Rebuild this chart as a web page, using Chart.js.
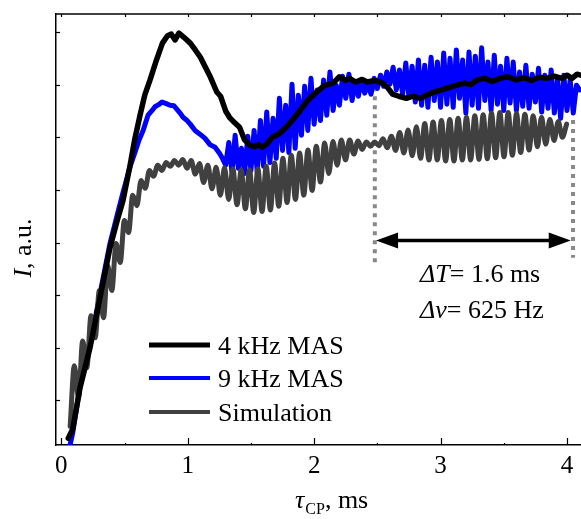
<!DOCTYPE html>
<html>
<head>
<meta charset="utf-8">
<script src="https://cdn.jsdelivr.net/npm/chart.js@4.4.1/dist/chart.umd.min.js"></script>
<style>
  html, body { margin: 0; padding: 0; background: #fff; }
  #cpChart { display: block; }
</style>
</head>
<body>
<canvas id="cpChart" width="581" height="519"></canvas>
<script>
// axis ticks (tau_CP in ms, intensity in arbitrary units)
const xTicks = [0, 0.5, 1, 1.5, 2, 2.5, 3, 3.5, 4];
const xTickLabels = ['0', '', '1', '', '2', '', '3', '', '4'];
const yTicks = [0, 1, 2, 3, 4, 5, 6, 7];

// 4 kHz MAS
const mas4X = [0.055, 0.09, 0.148, 0.227, 0.306, 0.385, 0.44, 0.488, 0.544, 0.58, 0.623, 0.66, 0.702,
  0.75, 0.80, 0.84, 0.87, 0.90, 0.93, 0.97, 1.02, 1.06, 1.10, 1.14, 1.18, 1.23, 1.26, 1.30, 1.33, 1.37,
  1.41, 1.45, 1.49, 1.53, 1.56, 1.59, 1.63, 1.67, 1.72, 1.78, 1.83, 1.89, 1.95, 2.02, 2.08, 2.15, 2.20,
  2.25, 2.28, 2.33, 2.38, 2.42, 2.48, 2.54, 2.58, 2.62, 2.67, 2.73, 2.78, 2.84, 2.89, 2.95, 3.01, 3.07,
  3.13, 3.19, 3.24, 3.29, 3.35, 3.41, 3.47, 3.53, 3.60, 3.66, 3.72, 3.78, 3.84, 3.90, 3.96, 4.00, 4.04,
  4.08, 4.11];
const mas4Y = [-0.72, -0.55, 0.24, 1.0, 1.95, 2.90, 3.40, 3.80, 4.47, 4.95, 5.42, 5.80, 6.09,
  6.45, 6.79, 6.93, 6.96, 6.85, 6.98, 6.90, 6.79, 6.66, 6.52, 6.33, 6.14, 5.86, 5.78, 5.50, 5.38, 5.28,
  5.19, 4.95, 4.85, 4.82, 4.86, 4.81, 4.88, 5.00, 5.06, 5.19, 5.33, 5.51, 5.70, 5.86, 5.98, 6.03, 6.15,
  6.08, 6.12, 6.05, 6.10, 6.05, 6.08, 6.03, 5.95, 5.82, 5.78, 5.74, 5.78, 5.74, 5.80, 5.86, 5.90, 5.95,
  5.99, 6.03, 6.00, 6.09, 6.12, 6.06, 6.12, 6.15, 6.09, 6.13, 6.08, 6.14, 6.12, 6.16, 6.12, 6.18, 6.12,
  6.20, 6.18];

// 9 kHz MAS: smooth rise, then the noisy part sampled every 0.025 ms from 1.30 ms
const mas9X = [0.06, 0.09, 0.148, 0.227, 0.306, 0.385, 0.44, 0.488, 0.545, 0.584, 0.615, 0.647, 0.686,
  0.715, 0.741, 0.77, 0.797, 0.83, 0.86, 0.89, 0.915, 0.94, 0.963, 0.99, 1.02, 1.058, 1.097, 1.137,
  1.176, 1.216, 1.25, 1.27];
const mas9Y = [-0.95, -0.62, 0.26, 1.05, 2.02, 2.98, 3.50, 3.95, 4.45, 4.72, 4.95, 5.13, 5.42,
  5.50, 5.58, 5.62, 5.67, 5.64, 5.61, 5.60, 5.53, 5.46, 5.38, 5.33, 5.25, 5.13, 5.06, 4.98,
  4.86, 4.81, 4.70, 4.62];
const mas9T0 = 1.30;
const mas9Dt = 0.025;
const mas9NoisyY = [4.47, 4.90, 4.33, 5.04, 4.41, 4.79, 4.31, 5.02, 4.37, 5.13, 4.33, 5.32, 4.45, 5.48,
  4.52, 5.36, 4.60, 5.74, 4.75, 5.61, 4.71, 6.01, 4.79, 5.80, 5.04, 5.97, 5.13, 6.12, 5.25, 5.90, 5.32,
  6.09, 5.42, 6.24, 5.51, 5.99, 5.61, 6.16, 5.74, 6.20, 5.70, 6.05, 5.78, 6.09, 5.84, 6.01, 5.82, 6.12,
  5.93, 6.18, 5.97, 6.24, 6.01, 6.33, 5.90, 6.28, 5.82, 6.41, 5.76, 6.35, 5.67, 6.47, 5.61, 6.37, 5.57,
  6.52, 5.70, 6.43, 5.57, 6.60, 5.63, 6.50, 5.57, 6.66, 5.74, 6.47, 5.46, 6.62, 5.61, 6.54, 5.55, 6.70,
  5.70, 6.43, 5.51, 6.56, 5.63, 6.35, 5.51, 6.50, 5.65, 6.43, 5.51, 6.24, 5.59, 6.37, 5.55, 6.20, 5.67,
  6.31, 5.48, 6.18, 5.55, 6.28, 5.46, 6.09, 5.36, 6.18, 5.51, 6.09, 5.46, 5.99, 5.90];

// Simulation, sampled every 0.033 ms from 0.07 ms (peaks and troughs)
const simT0 = 0.07;
const simDt = 0.033;
const simY = [-0.49, 0.66, 0.05, 1.13, 0.62, 1.61, 1.19, 2.09, 1.57, 2.56, 2.09, 2.98, 2.62, 3.42, 3.19,
  3.90, 3.70, 4.18, 4.03, 4.37, 4.26, 4.47, 4.37, 4.52, 4.45, 4.56, 4.47, 4.58, 4.41, 4.56, 4.30, 4.50,
  4.14, 4.47, 4.02, 4.43, 3.90, 4.42, 3.82, 4.40, 3.72, 4.38, 3.64, 4.38, 3.57, 4.40, 3.59, 4.45, 3.62,
  4.51, 3.69, 4.60, 3.76, 4.66, 3.82, 4.70, 3.90, 4.76, 3.99, 4.83, 4.15, 4.89, 4.31, 4.92, 4.47, 4.95,
  4.57, 4.95, 4.68, 4.93, 4.77, 4.91, 4.83, 4.91, 4.84, 4.97, 4.80, 5.02, 4.75, 5.09, 4.70, 5.14, 4.65,
  5.20, 4.60, 5.26, 4.57, 5.29, 4.57, 5.32, 4.55, 5.34, 4.55, 5.36, 4.57, 5.38, 4.57, 5.41, 4.58, 5.43,
  4.59, 5.46, 4.61, 5.47, 4.63, 5.47, 4.66, 5.45, 4.71, 5.44, 4.76, 5.41, 4.82, 5.38, 4.87, 5.34, 4.94,
  5.30, 5.00, 5.25];

const seriesNames = ['4 kHz MAS', '9 kHz MAS', 'Simulation'];
const seriesColors = ['#000000', '#0000ff', '#404040'];

// Delta T markers: dotted verticals [x, yFrom, yTo] and the arrow [x0, x1, y]
const dotLines = [[2.48, 2.56, 5.95], [4.048, 2.71, 5.84]];
const arrowSpan = [2.49, 4.03, 3.04];

const serif = 'Liberation Serif';
const toPoints = (xs, ys) => xs.map((x, i) => ({ x: x, y: ys[i] }));
const gridPoints = (t0, dt, ys) => ys.map((y, i) => ({ x: t0 + i * dt, y: y }));

const annotate = {
  id: 'annotate',
  beforeDatasetsDraw(chart) {
    const { ctx, scales: { x, y } } = chart;
    ctx.save();
    ctx.strokeStyle = '#888888';
    ctx.lineWidth = 4;
    ctx.setLineDash([4, 5]);
    dotLines.forEach(d => {
      const px = x.getPixelForValue(d[0]);
      ctx.beginPath();
      ctx.moveTo(px, y.getPixelForValue(d[2]));
      ctx.lineTo(px, y.getPixelForValue(d[1]));
      ctx.stroke();
    });
    ctx.restore();
  },
  afterDraw(chart) {
    const { ctx, chartArea: a, scales: { x, y } } = chart;
    ctx.save();

    // box top + inward ticks
    ctx.strokeStyle = '#000';
    ctx.lineWidth = 1.5;
    ctx.beginPath();
    ctx.moveTo(a.left, a.top);
    ctx.lineTo(a.right, a.top);
    ctx.stroke();
    ctx.lineWidth = 1.2;
    xTicks.forEach(v => {
      const px = Math.round(x.getPixelForValue(v)) + 0.5;
      const len = Number.isInteger(v) ? 7 : 2;
      ctx.beginPath();
      ctx.moveTo(px, a.bottom);
      ctx.lineTo(px, a.bottom - len);
      ctx.moveTo(px, a.top);
      ctx.lineTo(px, a.top + 3);
      ctx.stroke();
    });
    yTicks.forEach(v => {
      const py = Math.round(y.getPixelForValue(v)) + 0.5;
      ctx.beginPath();
      ctx.moveTo(a.left, py);
      ctx.lineTo(a.left + 4, py);
      ctx.stroke();
    });

    // double arrow
    const ax0 = x.getPixelForValue(arrowSpan[0]);
    const ax1 = x.getPixelForValue(arrowSpan[1]);
    const ay = y.getPixelForValue(arrowSpan[2]);
    const hl = 22, hw = 8;
    ctx.lineWidth = 3.5;
    ctx.beginPath();
    ctx.moveTo(ax0 + hl - 2, ay);
    ctx.lineTo(ax1 - hl + 2, ay);
    ctx.stroke();
    ctx.fillStyle = '#000';
    ctx.beginPath();
    ctx.moveTo(ax0, ay);
    ctx.lineTo(ax0 + hl, ay - hw);
    ctx.lineTo(ax0 + hl, ay + hw);
    ctx.closePath();
    ctx.fill();
    ctx.beginPath();
    ctx.moveTo(ax1, ay);
    ctx.lineTo(ax1 - hl, ay - hw);
    ctx.lineTo(ax1 - hl, ay + hw);
    ctx.closePath();
    ctx.fill();

    // annotation text
    ctx.textBaseline = 'alphabetic';
    ctx.textAlign = 'left';
    const twoPart = (a1, a2, px, py) => {
      ctx.font = 'italic 26px "' + serif + '"';
      ctx.fillText(a1, px, py);
      const w = ctx.measureText(a1).width;
      ctx.font = '26px "' + serif + '"';
      ctx.fillText(a2, px + w, py);
    };
    twoPart('\u0394T', '= 1.6 ms', 420, 282);
    twoPart('\u0394\u03bd', '= 625 Hz', 420, 318);

    // legend
    const legendY = [345, 378, 412];
    const legendW = [5, 4, 4];
    seriesNames.forEach((name, i) => {
      ctx.strokeStyle = seriesColors[i];
      ctx.lineWidth = legendW[i];
      ctx.beginPath();
      ctx.moveTo(149, legendY[i]);
      ctx.lineTo(210, legendY[i]);
      ctx.stroke();
      ctx.fillStyle = '#000';
      ctx.font = '26px "' + serif + '"';
      ctx.fillText(name, 218, legendY[i] + 9);
    });

    // x title: tau_CP, ms
    ctx.font = 'italic 26px "' + serif + '"';
    ctx.fillText('\u03c4', 295, 508);
    let cx = 295 + ctx.measureText('\u03c4').width + 1;
    ctx.font = '16px "' + serif + '"';
    ctx.fillText('CP', cx, 514);
    cx += ctx.measureText('CP').width;
    ctx.font = '26px "' + serif + '"';
    ctx.fillText(', ms', cx, 508);

    // y title: I, a.u.
    ctx.translate(31, 248);
    ctx.rotate(-Math.PI / 2);
    ctx.font = 'italic 26px "' + serif + '"';
    const w1 = ctx.measureText('I').width;
    ctx.font = '26px "' + serif + '"';
    const w2 = ctx.measureText(', a.u.').width;
    const sx = -(w1 + w2) / 2;
    ctx.font = 'italic 26px "' + serif + '"';
    ctx.fillText('I', sx, 0);
    ctx.font = '26px "' + serif + '"';
    ctx.fillText(', a.u.', sx + w1, 0);
    ctx.restore();
  }
};

new Chart(document.getElementById('cpChart'), {
  type: 'line',
  data: {
    datasets: [
      {
        label: seriesNames[0],
        data: toPoints(mas4X, mas4Y),
        borderColor: seriesColors[0],
        borderWidth: 5.5,
        tension: 0
      },
      {
        label: seriesNames[2],
        data: gridPoints(simT0, simDt, simY),
        borderColor: seriesColors[2],
        borderWidth: 5,
        cubicInterpolationMode: 'monotone'
      },
      {
        label: seriesNames[1],
        data: toPoints(mas9X, mas9Y).concat(gridPoints(mas9T0, mas9Dt, mas9NoisyY)),
        borderColor: seriesColors[1],
        borderWidth: 5,
        tension: 0
      }
    ]
  },
  options: {
    responsive: false,
    animation: false,
    parsing: false,
    normalized: true,
    elements: { point: { radius: 0 }, line: { borderJoinStyle: 'round', borderCapStyle: 'round' } },
    layout: { padding: { left: 56, top: 14, right: 0, bottom: 32 } },
    plugins: { legend: { display: false }, tooltip: { enabled: false } },
    scales: {
      x: {
        type: 'linear',
        min: -0.042,
        max: 4.111,
        grid: { display: false, drawTicks: false },
        border: { display: true, color: '#000', width: 1.5 },
        afterBuildTicks: s => { s.ticks = xTicks.map(v => ({ value: v })); },
        ticks: {
          autoSkip: false,
          maxRotation: 0,
          includeBounds: false,
          padding: 6,
          color: '#000',
          font: { family: serif, size: 25 },
          callback: (v) => xTickLabels[xTicks.indexOf(v)]
        }
      },
      y: {
        type: 'linear',
        min: -0.848,
        max: 7.343,
        grid: { display: false, drawTicks: false },
        border: { display: true, color: '#000', width: 1.5 },
        afterBuildTicks: s => { s.ticks = yTicks.map(v => ({ value: v })); },
        ticks: { display: false }
      }
    }
  },
  plugins: [annotate]
});
</script>
</body>
</html>
